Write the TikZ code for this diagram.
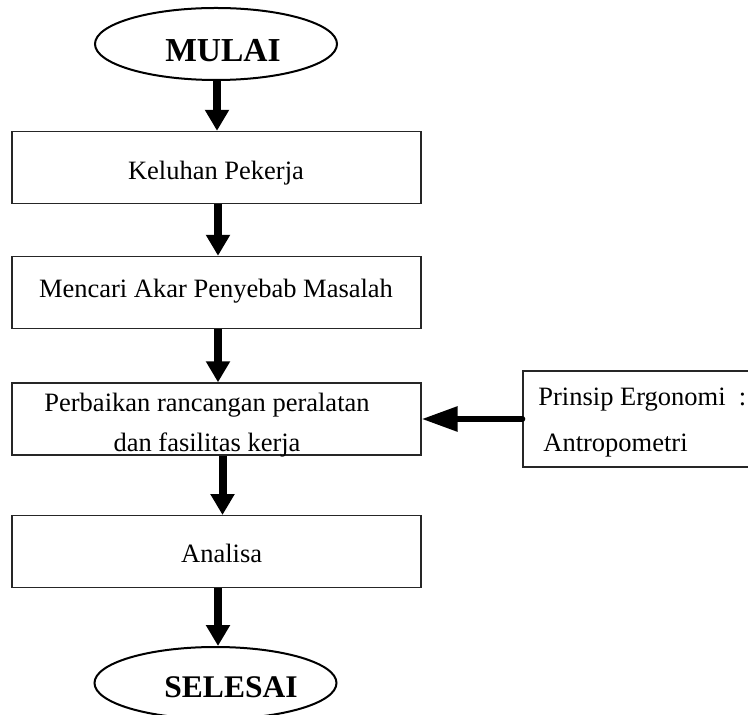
\documentclass[tikz,border=0pt]{standalone}
\usepackage{fontspec}
\setmainfont{Liberation Serif}
\usetikzlibrary{arrows.meta,shapes.geometric}
\begin{document}
\begin{tikzpicture}[x=0.5pt,y=-0.5pt,
  box/.style={draw=black!85, line width=0.7pt, rectangle, inner sep=0pt,
              minimum width=204.5pt, minimum height=36pt},
  sidebox/.style={draw=black!85, line width=0.7pt, rectangle, inner sep=0pt,
              minimum width=118.5pt, minimum height=48pt},
  terminal/.style={draw, line width=1pt, ellipse, inner sep=0pt,
              minimum width=121pt, minimum height=36pt},
  txt/.style={font=\fontsize{13.25}{20}\selectfont, inner sep=0pt},
  ttl/.style={font=\bfseries\fontsize{16.75}{20}\selectfont, inner sep=0pt},
  varrow/.style={line width=4pt, -{Triangle[length=10.5pt,width=11.5pt]}},
  harrow/.style={line width=3pt, line cap=round, -{Triangle[length=18pt,width=12pt]}}
]
\useasboundingbox (0,0) rectangle (748,715);

% terminals
\node[terminal] (start) at (216,44) {};
\node[ttl, anchor=base] (startlbl) at (223,62) {MULAI};
\node[terminal] (end) at (215.5,683) {};
\node[ttl, font=\bfseries\fontsize{15.75}{20}\selectfont, anchor=base] (endlbl) at (231,697) {SELESAI};

% process boxes
\node[box] (k1) at (216.5,167.5) {};
\node[txt, anchor=base] (k1lbl) at (216,180) {Keluhan Pekerja};
\node[box] (k2) at (216.5,292.5) {};
\node[txt, anchor=base] (k2lbl) at (216,298) {Mencari Akar Penyebab Masalah};
\node[box] (k3) at (216.5,419) {};
\node[txt, anchor=base] (k3a) at (207,411.7) {Perbaikan rancangan peralatan};
\node[txt, anchor=base] (k3b) at (207,451.7) {dan fasilitas kerja};
\node[box] (k4) at (216.5,551.7) {};
\node[txt, anchor=base] (k4lbl) at (221.7,562.7) {Analisa};

% side input
\node[sidebox] (pr) at (641.5,419) {};
\node[txt, anchor=base west] (pra) at (538,405) {Prinsip Ergonomi~~:};
\node[txt, anchor=base west] (prb) at (543,451.7) {Antropometri};

% flow
\draw[varrow] ([xshift=0.5pt]start.south) -- ([xshift=0.5pt]start.south |- k1.north);
\draw[varrow] ([xshift=0.75pt]k1.south) -- ([xshift=0.75pt]k2.north);
\draw[varrow] ([xshift=0.75pt]k2.south) -- ([xshift=0.75pt]k3.north);
\draw[varrow] ([xshift=3pt]k3.south) -- ([xshift=3pt]k4.north);
\draw[varrow] ([xshift=0.75pt]k4.south) -- ([xshift=0.75pt]k4.south |- end.north);
\draw[harrow] (pr.west) -- (k3.east);
\end{tikzpicture}
\end{document}
